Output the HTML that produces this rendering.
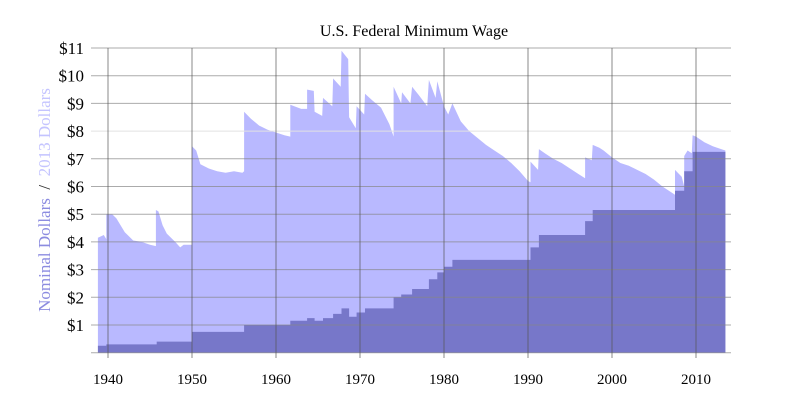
<!DOCTYPE html><html><head><style>body{margin:0;background:#fff}svg{display:block}</style></head><body>
<svg id="s" width="800" height="400" xmlns="http://www.w3.org/2000/svg" font-family="Liberation Serif, serif">
<rect width="800" height="400" fill="#fff"/>
<g id="fills"></g><g id="grid"></g>
<text x="414" y="36" font-size="16" text-anchor="middle">U.S. Federal Minimum Wage</text>
<text transform="translate(50,200) rotate(-90)" font-size="17" text-anchor="middle" xml:space="preserve"><tspan fill="#8c8ce0">Nominal Dollars</tspan><tspan fill="#333">  /  </tspan><tspan fill="#c4c4ff">2013 Dollars</tspan></text>
<g id="lab" font-size="17" text-anchor="end"></g>
</svg>
<script>
var X=function(y){return 108+(y-1940)*8.4},Y=function(v){return 352.7-27.7*v};
var real=[1938.8,4.15,1939.5,4.25,1939.8,4.1,1939.8,5.0,1940.5,5.0,1941,4.85,1942,4.35,1943,4.05,1944,4.0,1945,3.9,1945.7,3.85,1945.7,5.15,1946,5.1,1946.5,4.6,1947,4.3,1948,4.0,1948.6,3.8,1949,3.9,1950,3.9,1950,7.45,1950.5,7.3,1951,6.8,1952,6.65,1953,6.55,1954,6.5,1955,6.55,1956,6.5,1956.2,6.55,1956.2,8.7,1957,8.45,1958,8.2,1959,8.05,1960,7.95,1961,7.85,1961.7,7.8,1961.7,8.95,1963,8.8,1963.7,8.8,1963.7,9.5,1964.5,9.45,1964.6,8.7,1965.5,8.55,1965.6,9.2,1966.7,8.9,1966.8,9.9,1967.7,9.6,1967.8,10.9,1968.6,10.6,1968.7,8.5,1969.5,8.1,1969.6,8.9,1970.5,8.6,1970.6,9.35,1971.5,9.1,1972.5,8.85,1973.5,8.25,1974,7.8,1974,9.6,1974.9,9.0,1975,9.4,1976,9.0,1976.2,9.6,1977,9.3,1978,8.9,1978.2,9.85,1979,9.2,1979.2,9.8,1980,8.9,1980.5,8.6,1981,9.0,1982,8.35,1983,8.0,1984,7.75,1985,7.5,1986,7.3,1987,7.1,1988,6.85,1989,6.55,1990,6.2,1990.3,6.15,1990.3,6.9,1991.2,6.6,1991.3,7.35,1992,7.2,1993,7.0,1994,6.85,1995,6.65,1996,6.45,1996.8,6.3,1996.8,7.05,1997.6,6.95,1997.7,7.5,1998.5,7.4,1999,7.3,2000,7.05,2001,6.85,2002,6.75,2003,6.6,2004,6.45,2005,6.25,2006,6.0,2007,5.8,2007.5,5.7,2007.5,6.6,2008.3,6.35,2008.6,6.0,2008.6,7.1,2009,7.3,2009.5,7.2,2009.6,7.85,2010,7.8,2011,7.6,2012,7.45,2013,7.35,2013.5,7.3];
var nom=[1938.8,.25,1939.8,.30,1945.8,.40,1950,.75,1956.2,1.00,1961.7,1.15,1963.7,1.25,1964.6,1.15,1965.6,1.25,1966.8,1.40,1967.8,1.60,1968.7,1.30,1969.6,1.45,1970.6,1.60,1974,2.00,1974.9,2.10,1976.2,2.30,1978.2,2.65,1979.2,2.90,1980,3.10,1981,3.35,1990.3,3.80,1991.3,4.25,1996.8,4.75,1997.7,5.15,2007.5,5.85,2008.6,6.55,2009.6,7.25];
var ns="http://www.w3.org/2000/svg";
function el(t,a,p){var e=document.createElementNS(ns,t);for(var k in a)e.setAttribute(k,a[k]);p.appendChild(e);return e}
var f=document.getElementById('fills'),g=document.getElementById('grid'),l=document.getElementById('lab');
var d="M"+X(1938.8)+","+Y(0);for(var i=0;i<real.length;i+=2)d+=" L"+X(real[i]).toFixed(1)+","+Y(real[i+1]).toFixed(1);d+=" L"+X(2013.5)+","+Y(0)+"Z";
el('path',{d:d,fill:'#b9b9ff'},f);
d="M"+X(1938.8)+","+Y(0);for(i=0;i<nom.length;i+=2){var x1=X(nom[i]),x2=i+2<nom.length?X(nom[i+2]):X(2013.5);d+=" L"+x1.toFixed(1)+","+Y(nom[i+1]).toFixed(1)+" L"+x2.toFixed(1)+","+Y(nom[i+1]).toFixed(1)}d+=" L"+X(2013.5)+","+Y(0)+"Z";
el('path',{d:d,fill:'#7777c9'},f);
for(var v=0;v<=11;v++){var y=Y(v);el('line',{x1:91,x2:731,y1:y,y2:y,stroke:v==8?'#e2e2e2':'#888','stroke-opacity':v==8?1:0.7,'stroke-width':1},g);
if(v>0){var t=el('text',{x:84,y:y+6},l);t.textContent='$'+v}}
for(var yr=1940;yr<=2010;yr+=10){var x=X(yr);el('line',{x1:x,x2:x,y1:48,y2:358,stroke:'#555','stroke-opacity':0.7},g);
var t=el('text',{x:x,y:384,'font-size':15,'text-anchor':'middle'},document.getElementById('s'));t.textContent=yr}
</script></body></html>
